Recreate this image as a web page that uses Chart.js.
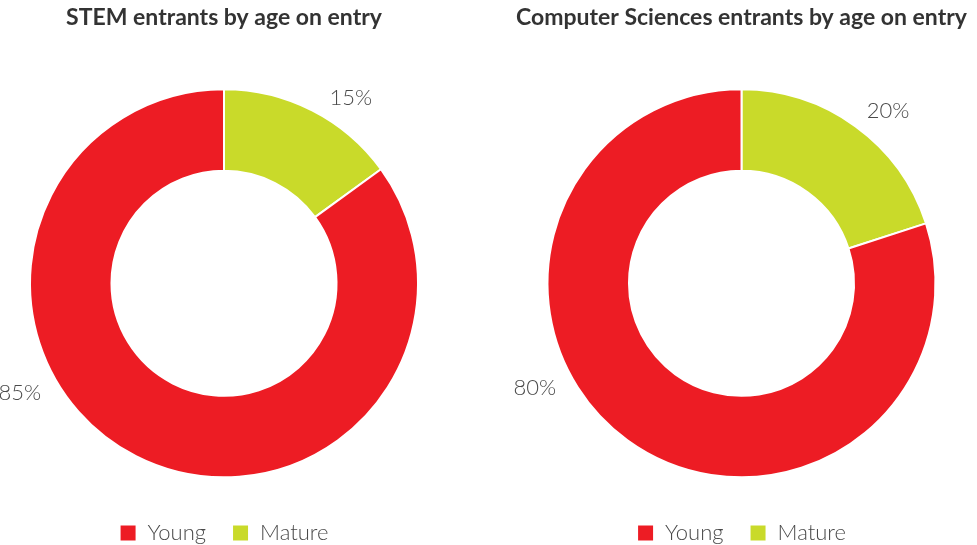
<!DOCTYPE html>
<html>
<head>
<meta charset="utf-8">
<script src="https://cdn.jsdelivr.net/npm/chart.js@4.4.1/dist/chart.umd.min.js"></script>
<style>
  html, body { margin: 0; padding: 0; background: #fff; }
  .wrap { position: absolute; top: 0; height: 545px; }
  #w1 { left: 0; width: 448px; }
  #w2 { left: 506px; width: 471px; }
</style>
</head>
<body>
<div class="wrap" id="w1"><canvas id="stem"></canvas></div>
<div class="wrap" id="w2"><canvas id="comp"></canvas></div>
<script>
// data (order: Mature first so it starts at 12 o'clock)
var categories = ['Mature', 'Young'];
var stemValues = [15, 85];
var compValues = [20, 80];
var titles = ['STEM entrants by age on entry', 'Computer Sciences entrants by age on entry'];

var colors = ['#C9DA2A', '#ED1C24'];
var textColor = '#4a4a4a';

// where along each arc its % label sits (0 = start, 1 = end)
var stemLabelSpot = [0.55, 0.605];
var compLabelSpot = [0.5, 0.585];

// draw the % labels just outside the ring
var outsideLabels = {
	id: 'outsideLabels',
	afterDatasetsDraw: function(chart) {
		var ctx = chart.ctx;
		var meta = chart.getDatasetMeta(0);
		var data = chart.data.datasets[0].data;
		var spot = chart.options.labelSpot;
		ctx.save();
		ctx.font = '300 22px Lato, "Open Sans", sans-serif';
		ctx.fillStyle = textColor;
		ctx.textBaseline = 'middle';
		meta.data.forEach(function(arc, i) {
			var a = arc.startAngle + (arc.endAngle - arc.startAngle) * spot[i];
			var r = arc.outerRadius + 19;
			ctx.textAlign = Math.cos(a) >= 0 ? 'left' : 'right';
			ctx.fillText(data[i] + '%', arc.x + Math.cos(a) * r, arc.y + Math.sin(a) * r);
		});
		ctx.restore();
	}
};

function makeChart(id, values, title, spot) {
	return new Chart(document.getElementById(id), {
		type: 'doughnut',
		data: {
			labels: categories,
			datasets: [{
				data: values,
				backgroundColor: colors,
				borderColor: '#ffffff',
				borderWidth: 2,
				hoverOffset: 0
			}]
		},
		options: {
			responsive: true,
			maintainAspectRatio: false,
			animation: false,
			radius: 194,
			cutout: '58%',
			labelSpot: spot,
			layout: { padding: { top: 4, bottom: -9, left: 0, right: 0 } },
			plugins: {
				title: {
					display: true,
					text: title,
					color: '#333333',
					font: { family: 'Lato, "Open Sans", sans-serif', size: 23, weight: 'bold' },
					padding: { top: 0, bottom: 39 }
				},
				legend: {
					position: 'bottom',
					reverse: true,
					labels: {
						color: textColor,
						font: { family: 'Lato, "Open Sans", sans-serif', size: 22, weight: '300' },
						boxWidth: 17,
						boxHeight: 17,
						padding: 26
					}
				},
				tooltip: { enabled: false }
			}
		},
		plugins: [outsideLabels]
	});
}

makeChart('stem', stemValues, titles[0], stemLabelSpot);
makeChart('comp', compValues, titles[1], compLabelSpot);
</script>
</body>
</html>
